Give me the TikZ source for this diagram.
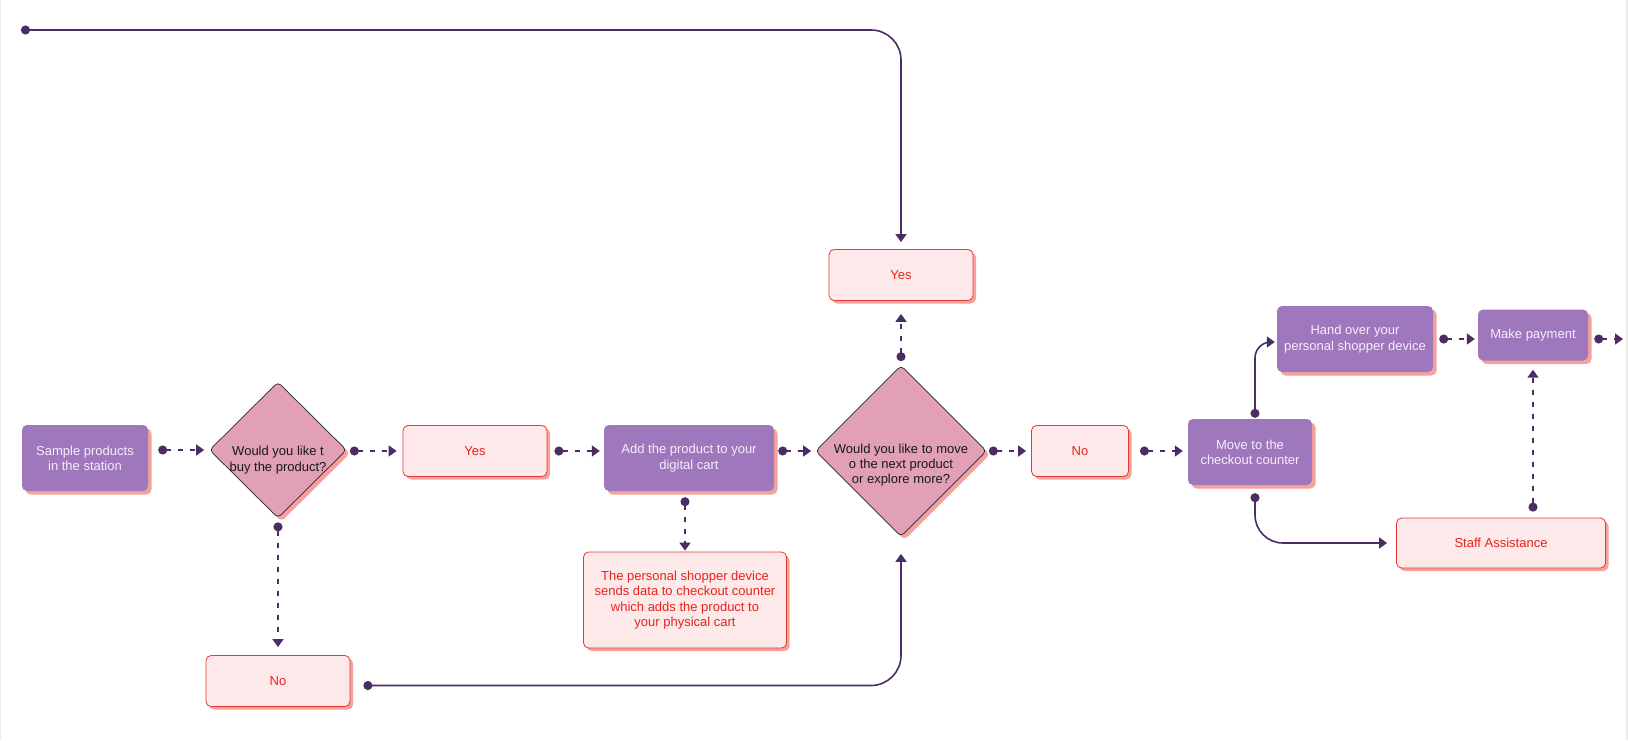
\documentclass[tikz,border=0pt]{standalone}
\usepackage{fontspec}
\setmainfont{Liberation Sans}
\usetikzlibrary{positioning,arrows.meta,shapes.geometric,shadows}

\definecolor{boxpurple}{HTML}{9E77BD}
\definecolor{boxtext}{HTML}{F6EEF9}
\definecolor{pinkfill}{HTML}{FDE8EA}
\definecolor{pinkline}{HTML}{E53935}
\definecolor{pinktext}{HTML}{E8231C}
\definecolor{decfill}{HTML}{E2A0B8}
\definecolor{shade}{HTML}{F4A29C}
\definecolor{linkc}{HTML}{4A2D64}

\begin{document}
\begin{tikzpicture}[x=1pt,y=-1pt,font=\fontsize{13}{15.3}\selectfont,
  act node/.style={rectangle,rounded corners=5pt,fill=boxpurple,text=boxtext,
    align=center,inner sep=0pt,
    general shadow={fill=shade,draw=none,shadow xshift=3.5pt,shadow yshift=-3.5pt}},
  note node/.style={rectangle,rounded corners=5pt,draw=pinkline,line width=0.8pt,
    fill=pinkfill,text=pinktext,align=center,inner sep=0pt,
    general shadow={fill=shade,draw=none,shadow xshift=3pt,shadow yshift=-3pt}},
  dec node/.style={diamond,rounded corners=4pt,draw=black!85,line width=0.7pt,
    fill=decfill,inner sep=0pt,
    general shadow={fill=shade,draw=none,shadow xshift=3.5pt,shadow yshift=-3.5pt}},
  dec text/.style={text=black!90,align=center,yshift=-10pt},
  dash link/.style={draw=linkc,line width=1.6pt,dash pattern=on 5pt off 7pt,
    {Circle[length=9pt]}-{Triangle[length=8pt,width=11pt]}},
  solid link/.style={draw=linkc,line width=1.6pt,rounded corners=30pt,
    {Circle[length=9pt]}-{Triangle[length=8pt,width=11pt]}}]

  \useasboundingbox (0,0) rectangle (1628,740);
  \fill[white] (0,0) rectangle (1628,740);
  \fill[black!8] (0,0) rectangle (1.2,740);
  \fill[black!8] (1626,0) rectangle (1628,740);

  % main row
  \node[act node,minimum width=126pt,minimum height=66pt] (s1) at (85,458) {Sample products\\in the station};
  \node[dec node,minimum width=137pt,minimum height=136pt,
    label={[dec text]center:Would you like t\\buy the product?}] (q1) at (278,450) {};
  \node[note node,minimum width=144pt,minimum height=51pt] (yes1) at (475,451) {Yes};
  \node[act node,minimum width=170pt,minimum height=66pt] (cart) at (689,458) {Add the product to your\\digital cart};
  \node[dec node,minimum width=171pt,minimum height=171pt,
    label={[dec text,yshift=-4pt]center:Would you like to move\\o the next product\\or explore more?}] (q2) at (901,451) {};
  \node[note node,minimum width=97pt,minimum height=51pt] (no2) at (1080,451) {No};
  \node[act node,minimum width=124pt,minimum height=66pt] (mv) at (1250,452) {Move to the\\checkout counter};

  % branches
  \node[note node,minimum width=144pt,minimum height=51pt] (yes2) [above of=q2,node distance=176pt] {Yes};
  \node[note node,minimum width=144pt,minimum height=51pt] (no1) [below of=q1,node distance=231pt] {No};
  \node[note node,minimum width=203pt,minimum height=96pt] (shop) at (685,600)
    {The personal shopper device\\sends data to checkout counter\\which adds the product to\\your physical cart};

  % checkout
  \node[act node,minimum width=156pt,minimum height=66pt] (hand) at (1355,339) {Hand over your\\personal shopper device};
  \node[act node,minimum width=110pt,minimum height=51pt] (pay) at (1533,335) {Make payment};
  \node[note node,minimum width=209pt,minimum height=50pt] (staff) at (1501,543) {Staff Assistance};

  \coordinate (begin) at (21,30);
  \coordinate (exit) at (1623,339);

  \path
    (s1.east |- q1.west) edge[dash link,shorten <=10pt,shorten >=5pt] (q1.west)
    ([yshift=-1pt]q1.east) edge[dash link,shorten <=3pt,shorten >=6pt] ([yshift=-1pt]q1.east -| yes1.west)
    (yes1.east) edge[dash link,shorten <=7pt,shorten >=4pt] (yes1.east -| cart.west)
    (q2.west -| cart.east) edge[dash link,shorten <=4pt,shorten >=4pt] (q2.west)
    (q2.east) edge[dash link,shorten <=2pt,shorten >=5pt] (q2.east -| no2.west)
    (no2.east) edge[dash link,shorten <=11pt,shorten >=5pt] (no2.east -| mv.west)
    (hand.east) edge[dash link,shorten <=6pt,shorten >=3pt] (hand.east -| pay.west)
    (pay.east |- exit) edge[dash link,shorten <=6pt] (exit)
    (q1.south) edge[dash link,shorten <=4pt,shorten >=8pt] (q1.south |- no1.north)
    (shop.north |- cart.south) edge[dash link,shorten <=6pt,shorten >=1pt] (shop.north)
    (q2.north) edge[dash link,shorten <=4pt,shorten >=13pt] (yes2.south)
    (pay.south |- staff.north) edge[dash link,shorten <=6pt,shorten >=9pt] (pay.south);

  \draw[solid link,shorten >=7pt] (begin) -- (begin -| yes2.north) -- (yes2.north);
  \draw[solid link,shorten <=13pt,shorten >=17pt] ([yshift=-4.5pt]no1.east) -| (q2.south);
  \draw[solid link,rounded corners=16pt,shorten <=1pt,shorten >=2pt]
    ([xshift=5pt]mv.north) |- ([yshift=-3pt]hand.west);
  \draw[solid link,rounded corners=28pt,shorten <=8pt,shorten >=9pt]
    ([xshift=5pt]mv.south) |- (staff.west);
\end{tikzpicture}
\end{document}
